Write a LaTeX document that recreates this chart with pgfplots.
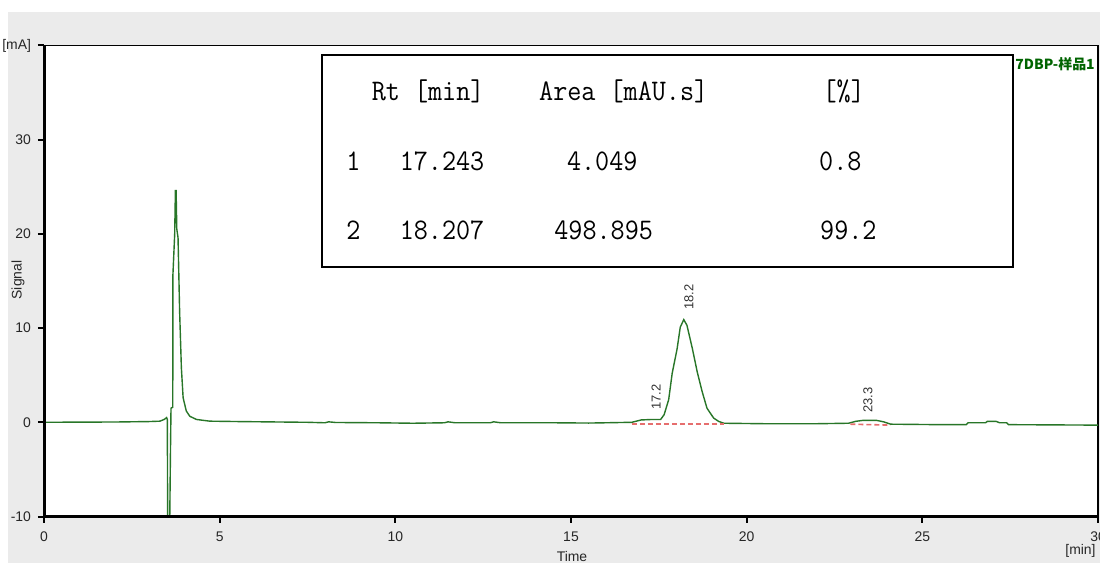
\documentclass[border=0pt]{standalone}
\usepackage{pgfplots}
\pgfplotsset{compat=1.18}
\usepackage{fontspec}
\setmainfont{Liberation Sans}
\newfontfamily\tabfont[FakeStretch=0.915]{Latin Modern Mono}
\newfontfamily\cjk{Noto Sans CJK SC}
\definecolor{bggray}{RGB}{235,235,235}
\definecolor{trace}{RGB}{40,118,40}
\definecolor{tagreen}{RGB}{0,100,0}
\definecolor{basered}{RGB}{230,110,110}
\begin{document}
\begin{tikzpicture}
  % page = 1100x563 px, 1 px = 0.5bp, axis corner at origin
  \useasboundingbox (-22bp,-23.25bp) rectangle (528bp,258.25bp);
  \fill[bggray] (-18bp,-23.25bp) rectangle (528bp,252.25bp);
  \begin{axis}[
      at={(0,0)}, anchor=south west,
      scale only axis,
      width=527bp, height=235.5bp,
      xmin=0, xmax=30, ymin=-10, ymax=40,
      xtick={0,5,...,30},
      ytick={-10,0,10,20,30,40},
      yticklabels={-10,0,10,20,30,{[mA]}},
      tick align=outside,
      tick pos=left,
      major tick length=3bp,
      tick style={black, line width=1bp},
      axis line style={black, line width=0.6bp},
      axis background/.style={fill=white},
      ticklabel style={font=\fontsize{7}{8}\selectfont, text=black!85},
      /pgf/number format/assume math mode=true,
      xticklabel style={yshift=-1bp},
      clip=false,
    ]
    \addplot[trace, line width=0.7bp] coordinates {
      (0,0) (1.0,0.02) (2.0,0.03) (3.0,0.08) (3.30,0.12) (3.42,0.3) (3.49,0.5)
      (3.51,0.3) (3.52,-10) (3.58,-10) (3.60,-3) (3.615,1.5) (3.665,1.6)
      (3.67,15.7) (3.72,20.0) (3.74,24.6) (3.76,24.6) (3.78,20.5) (3.815,19.6)
      (3.86,11.8) (3.91,5.8) (3.96,2.6) (4.05,1.2) (4.15,0.64) (4.34,0.3)
      (4.72,0.12) (5.5,0.08) (6.5,0.04) (7.5,0.0) (8.0,-0.05) (8.1,0.05)
      (8.3,-0.02) (9.5,-0.05) (10.5,-0.1) (11.4,-0.05) (11.5,0.05) (11.7,-0.05)
      (12.7,-0.05) (12.8,0.05) (13,-0.05) (14.5,-0.05) (15.5,-0.08) (16.0,-0.05)
      (16.73,0.0) (17.0,0.25) (17.3,0.3) (17.55,0.3) (17.65,0.8) (17.78,2.4)
      (17.88,5.2) (18.02,7.8) (18.11,10.1) (18.21,10.9) (18.30,10.3) (18.45,7.9)
      (18.59,5.4) (18.73,3.3) (18.87,1.5) (19.06,0.45) (19.2,0.1) (19.35,-0.1)
      (20.5,-0.15) (22.0,-0.15) (22.9,-0.1) (23.1,0.1) (23.3,0.2) (23.7,0.2)
      (23.9,0.05) (24.1,-0.2) (25.5,-0.25) (26.25,-0.25) (26.3,-0.05) (26.8,-0.05)
      (26.85,0.1) (27.1,0.1) (27.2,-0.05) (27.4,-0.05) (27.45,-0.25) (30,-0.3)
    };
    % integration baselines
    \addplot[basered, line width=0.8bp, dash pattern=on 2.5bp off 1.5bp] coordinates {(16.73,-0.15) (19.35,-0.15)};
    \addplot[basered, line width=0.8bp, dash pattern=on 2.5bp off 1.5bp] coordinates {(22.95,-0.2) (24.09,-0.3)};
  \end{axis}
  % heavy left and bottom axis lines
  \draw[black, line width=1.5bp] (0,235.5bp) -- (0,0) -- (527bp,0);
  % peak labels
  \begin{scope}[font=\fontsize{6.5}{7}\selectfont, text=black!80, inner sep=0]
    \node[rotate=90, anchor=west] at (306bp,53.25bp) {17.2};
    \node[rotate=90, anchor=west] at (322.5bp,103.25bp) {18.2};
    \node[rotate=90, anchor=west] at (412bp,51.75bp) {23.3};
  \end{scope}
  % axis titles
  \begin{scope}[font=\fontsize{7}{8}\selectfont, text=black!85, inner sep=0]
    \node[rotate=90] at (-13bp,118.25bp) {Signal};
    \node at (264bp,-20.25bp) {Time};
    \node[anchor=east] at (526bp,-17.25bp) {[min]};
  \end{scope}
  \node[anchor=west, inner sep=0, text=tagreen, font=\cjk\bfseries\fontsize{7}{8}\selectfont] at (485.5bp,226.25bp) {7DBP-样品1};
  % result table
  \draw[black, line width=1bp, fill=white] (139bp,124.75bp) rectangle (484.5bp,230.75bp);
  \begin{scope}[font=\tabfont\fontsize{15}{16}\selectfont, inner sep=0]
    \node[anchor=base west] at (163.7bp,207.95bp) {Rt [min]};
    \node[anchor=base west] at (247.4bp,207.95bp) {Area [mAU.s]};
    \node[anchor=base west] at (389.1bp,207.95bp) {[\%]};
    \node[anchor=base west] at (151bp,173.2bp) {1};
    \node[anchor=base west] at (177.7bp,173.2bp) {17.243};
    \node[anchor=base west] at (261.3bp,173.2bp) {4.049};
    \node[anchor=base west] at (387.4bp,173.2bp) {0.8};
    \node[anchor=base west] at (151bp,138.45bp) {2};
    \node[anchor=base west] at (177.7bp,138.45bp) {18.207};
    \node[anchor=base west] at (255bp,138.45bp) {498.895};
    \node[anchor=base west] at (387.9bp,138.45bp) {99.2};
  \end{scope}
\end{tikzpicture}
\end{document}
